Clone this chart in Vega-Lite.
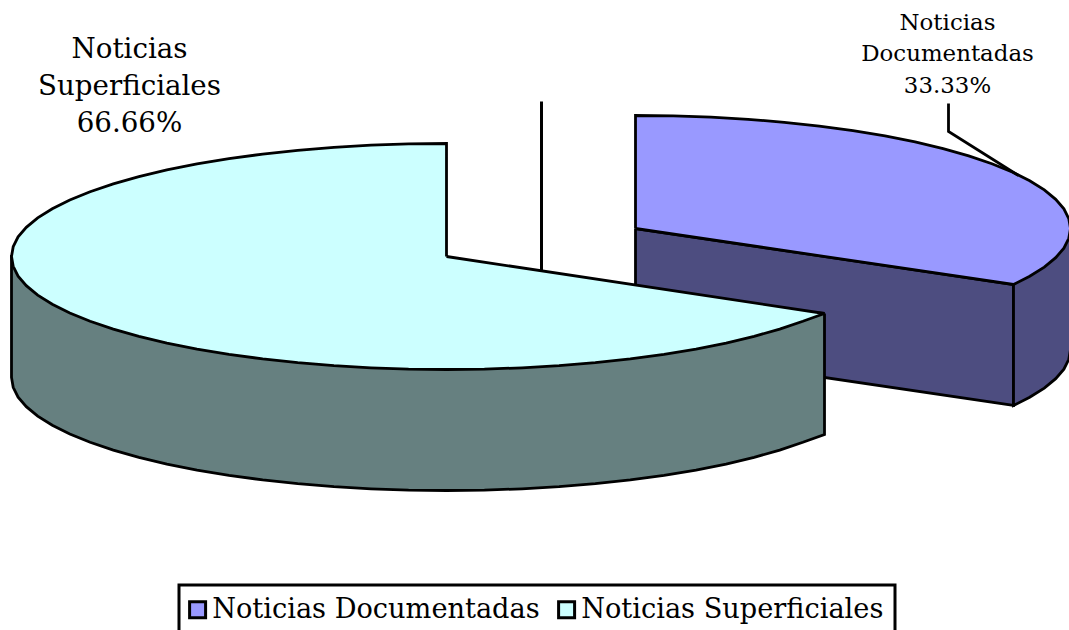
{
"$schema":"https://vega.github.io/schema/vega-lite/v6.json",
"width":1069,"height":630,"padding":0,"autosize":{"type":"none"},
"background":"white",
"config":{"view":{"stroke":null}},
"datasets":{
"caraAzul":[{"i":0,"x":635,"y":228},{"i":1,"x":1013,"y":284},{"i":2,"x":1013,"y":405},{"i":3,"x":635,"y":349},{"i":4,"x":635,"y":228}],
"bordeAzul":[{"i":0,"x":1013,"y":284},{"i":1,"x":1013,"y":405},{"i":2,"x":1029.2,"y":396.8},{"i":3,"x":1043.8,"y":387.6},{"i":4,"x":1055.2,"y":378.2},{"i":5,"x":1063.4,"y":368.6},{"i":6,"x":1068.3,"y":358.8},{"i":7,"x":1070,"y":349},{"i":8,"x":1070,"y":228},{"i":9,"x":1013,"y":284}],
"tapaAzul":[{"i":0,"x":635,"y":228,"serie":"Noticias Documentadas"},{"i":1,"x":635,"y":115,"serie":"Noticias Documentadas"},{"i":2,"x":672.9,"y":115.4,"serie":"Noticias Documentadas"},{"i":3,"x":710.5,"y":116.7,"serie":"Noticias Documentadas"},{"i":4,"x":747.6,"y":118.8,"serie":"Noticias Documentadas"},{"i":5,"x":783.8,"y":121.8,"serie":"Noticias Documentadas"},{"i":6,"x":818.8,"y":125.6,"serie":"Noticias Documentadas"},{"i":7,"x":852.5,"y":130.1,"serie":"Noticias Documentadas"},{"i":8,"x":884.5,"y":135.4,"serie":"Noticias Documentadas"},{"i":9,"x":914.6,"y":141.4,"serie":"Noticias Documentadas"},{"i":10,"x":942.6,"y":148.1,"serie":"Noticias Documentadas"},{"i":11,"x":968.2,"y":155.4,"serie":"Noticias Documentadas"},{"i":12,"x":991.4,"y":163.2,"serie":"Noticias Documentadas"},{"i":13,"x":1011.7,"y":171.5,"serie":"Noticias Documentadas"},{"i":14,"x":1029.2,"y":180.2,"serie":"Noticias Documentadas"},{"i":15,"x":1043.8,"y":189.4,"serie":"Noticias Documentadas"},{"i":16,"x":1055.2,"y":198.8,"serie":"Noticias Documentadas"},{"i":17,"x":1063.4,"y":208.4,"serie":"Noticias Documentadas"},{"i":18,"x":1068.3,"y":218.2,"serie":"Noticias Documentadas"},{"i":19,"x":1070,"y":228,"serie":"Noticias Documentadas"},{"i":20,"x":1068.3,"y":237.8,"serie":"Noticias Documentadas"},{"i":21,"x":1063.4,"y":247.6,"serie":"Noticias Documentadas"},{"i":22,"x":1055.2,"y":257.2,"serie":"Noticias Documentadas"},{"i":23,"x":1043.8,"y":266.6,"serie":"Noticias Documentadas"},{"i":24,"x":1029.2,"y":275.8,"serie":"Noticias Documentadas"},{"i":25,"x":1013,"y":284,"serie":"Noticias Documentadas"},{"i":26,"x":635,"y":228,"serie":"Noticias Documentadas"}],
"bordeCian":[{"i":0,"x":824,"y":313},{"i":1,"x":824,"y":434},{"i":2,"x":802.4,"y":441.8},{"i":3,"x":779.2,"y":449.6},{"i":4,"x":753.6,"y":456.9},{"i":5,"x":725.6,"y":463.6},{"i":6,"x":695.5,"y":469.6},{"i":7,"x":663.5,"y":474.9},{"i":8,"x":629.8,"y":479.4},{"i":9,"x":594.8,"y":483.2},{"i":10,"x":558.6,"y":486.2},{"i":11,"x":521.5,"y":488.3},{"i":12,"x":483.9,"y":489.6},{"i":13,"x":446,"y":490},{"i":14,"x":408.1,"y":489.6},{"i":15,"x":370.5,"y":488.3},{"i":16,"x":333.4,"y":486.2},{"i":17,"x":297.2,"y":483.2},{"i":18,"x":262.2,"y":479.4},{"i":19,"x":228.5,"y":474.9},{"i":20,"x":196.5,"y":469.6},{"i":21,"x":166.4,"y":463.6},{"i":22,"x":138.4,"y":456.9},{"i":23,"x":112.8,"y":449.6},{"i":24,"x":89.6,"y":441.8},{"i":25,"x":69.3,"y":433.5},{"i":26,"x":51.8,"y":424.8},{"i":27,"x":37.2,"y":415.6},{"i":28,"x":25.8,"y":406.2},{"i":29,"x":17.6,"y":396.6},{"i":30,"x":12.7,"y":386.8},{"i":31,"x":11,"y":377},{"i":32,"x":11,"y":256},{"i":33,"x":824,"y":313}],
"tapaCian":[{"i":0,"x":446,"y":256,"serie":"Noticias Superficiales"},{"i":1,"x":824,"y":313,"serie":"Noticias Superficiales"},{"i":2,"x":802.4,"y":320.8,"serie":"Noticias Superficiales"},{"i":3,"x":779.2,"y":328.6,"serie":"Noticias Superficiales"},{"i":4,"x":753.6,"y":335.9,"serie":"Noticias Superficiales"},{"i":5,"x":725.6,"y":342.6,"serie":"Noticias Superficiales"},{"i":6,"x":695.5,"y":348.6,"serie":"Noticias Superficiales"},{"i":7,"x":663.5,"y":353.9,"serie":"Noticias Superficiales"},{"i":8,"x":629.8,"y":358.4,"serie":"Noticias Superficiales"},{"i":9,"x":594.8,"y":362.2,"serie":"Noticias Superficiales"},{"i":10,"x":558.6,"y":365.2,"serie":"Noticias Superficiales"},{"i":11,"x":521.5,"y":367.3,"serie":"Noticias Superficiales"},{"i":12,"x":483.9,"y":368.6,"serie":"Noticias Superficiales"},{"i":13,"x":446,"y":369,"serie":"Noticias Superficiales"},{"i":14,"x":408.1,"y":368.6,"serie":"Noticias Superficiales"},{"i":15,"x":370.5,"y":367.3,"serie":"Noticias Superficiales"},{"i":16,"x":333.4,"y":365.2,"serie":"Noticias Superficiales"},{"i":17,"x":297.2,"y":362.2,"serie":"Noticias Superficiales"},{"i":18,"x":262.2,"y":358.4,"serie":"Noticias Superficiales"},{"i":19,"x":228.5,"y":353.9,"serie":"Noticias Superficiales"},{"i":20,"x":196.5,"y":348.6,"serie":"Noticias Superficiales"},{"i":21,"x":166.4,"y":342.6,"serie":"Noticias Superficiales"},{"i":22,"x":138.4,"y":335.9,"serie":"Noticias Superficiales"},{"i":23,"x":112.8,"y":328.6,"serie":"Noticias Superficiales"},{"i":24,"x":89.6,"y":320.8,"serie":"Noticias Superficiales"},{"i":25,"x":69.3,"y":312.5,"serie":"Noticias Superficiales"},{"i":26,"x":51.8,"y":303.8,"serie":"Noticias Superficiales"},{"i":27,"x":37.2,"y":294.6,"serie":"Noticias Superficiales"},{"i":28,"x":25.8,"y":285.2,"serie":"Noticias Superficiales"},{"i":29,"x":17.6,"y":275.6,"serie":"Noticias Superficiales"},{"i":30,"x":12.7,"y":265.8,"serie":"Noticias Superficiales"},{"i":31,"x":11,"y":256,"serie":"Noticias Superficiales"},{"i":32,"x":12.7,"y":246.2,"serie":"Noticias Superficiales"},{"i":33,"x":17.6,"y":236.4,"serie":"Noticias Superficiales"},{"i":34,"x":25.8,"y":226.8,"serie":"Noticias Superficiales"},{"i":35,"x":37.2,"y":217.4,"serie":"Noticias Superficiales"},{"i":36,"x":51.8,"y":208.2,"serie":"Noticias Superficiales"},{"i":37,"x":69.3,"y":199.5,"serie":"Noticias Superficiales"},{"i":38,"x":89.6,"y":191.2,"serie":"Noticias Superficiales"},{"i":39,"x":112.8,"y":183.4,"serie":"Noticias Superficiales"},{"i":40,"x":138.4,"y":176.1,"serie":"Noticias Superficiales"},{"i":41,"x":166.4,"y":169.4,"serie":"Noticias Superficiales"},{"i":42,"x":196.5,"y":163.4,"serie":"Noticias Superficiales"},{"i":43,"x":228.5,"y":158.1,"serie":"Noticias Superficiales"},{"i":44,"x":262.2,"y":153.6,"serie":"Noticias Superficiales"},{"i":45,"x":297.2,"y":149.8,"serie":"Noticias Superficiales"},{"i":46,"x":333.4,"y":146.8,"serie":"Noticias Superficiales"},{"i":47,"x":370.5,"y":144.7,"serie":"Noticias Superficiales"},{"i":48,"x":408.1,"y":143.4,"serie":"Noticias Superficiales"},{"i":49,"x":446,"y":143,"serie":"Noticias Superficiales"},{"i":50,"x":446,"y":256,"serie":"Noticias Superficiales"}],
"eje":[{"i":0,"x":541,"y":101},{"i":1,"x":541,"y":270}],
"guia":[{"i":0,"x":948,"y":103},{"i":1,"x":948,"y":131},{"i":2,"x":1018,"y":175}],
"rotuloIzq":[{"x":129,"y":49,"t":"Noticias"},{"x":129,"y":86,"t":"Superficiales"},{"x":129,"y":123,"t":"66.66%"}],
"rotuloDer":[{"x":947,"y":22,"t":"Noticias"},{"x":947,"y":53,"t":"Documentadas"},{"x":947,"y":85,"t":"33.33%"}]
},
"encoding":{
"x":{"field":"x","type":"quantitative","axis":null,"scale":{"domain":[-0.5,1068.5],"nice":false,"zero":false}},
"y":{"field":"y","type":"quantitative","axis":null,"scale":{"domain":[629.5,-0.5],"nice":false,"zero":false}}
},
"layer":[
{"data":{"name":"caraAzul"},"mark":{"type":"line","fill":"#4d4d80","stroke":"black","strokeWidth":2.8,"strokeJoin":"miter"},"encoding":{"order":{"field":"i"}}},
{"data":{"name":"bordeAzul"},"mark":{"type":"line","fill":"#4d4d80","stroke":"black","strokeWidth":2.8,"strokeJoin":"miter"},"encoding":{"order":{"field":"i"}}},
{"data":{"name":"tapaAzul"},"mark":{"type":"line","stroke":"black","strokeWidth":2.8,"strokeJoin":"miter"},"encoding":{"order":{"field":"i"},"fill":{"field":"serie","type":"nominal","scale":{"domain":["Noticias Documentadas","Noticias Superficiales"],"range":["#9999ff","#ccffff"]},"legend":{"orient":"none","legendX":179,"legendY":585,"direction":"horizontal","columns":2,"title":null,"symbolType":"square","symbolSize":256,"symbolStrokeColor":"black","symbolStrokeWidth":3,"symbolOpacity":1,"symbolOffset":-6,"labelOffset":1,"labelFont":"DejaVu Serif","labelFontSize":27.2,"labelColor":"black","labelLimit":500,"strokeColor":"black","fillColor":"white","padding":11,"columnPadding":12,"encode":{"legend":{"update":{"strokeWidth":{"value":3}}}}}}}},
{"data":{"name":"bordeCian"},"mark":{"type":"line","fill":"#668080","stroke":"black","strokeWidth":2.8,"strokeJoin":"miter"},"encoding":{"order":{"field":"i"}}},
{"data":{"name":"tapaCian"},"mark":{"type":"line","stroke":"black","strokeWidth":2.8,"strokeJoin":"miter"},"encoding":{"order":{"field":"i"},"fill":{"field":"serie","type":"nominal"}}},
{"data":{"name":"eje"},"mark":{"type":"line","stroke":"black","strokeWidth":3},"encoding":{"order":{"field":"i"}}},
{"data":{"name":"guia"},"mark":{"type":"line","stroke":"black","strokeWidth":2.8,"strokeJoin":"miter"},"encoding":{"order":{"field":"i"}}},
{"data":{"name":"rotuloIzq"},"mark":{"type":"text","font":"DejaVu Serif","fontSize":27.7,"color":"black","align":"center","baseline":"middle"},"encoding":{"text":{"field":"t"}}},
{"data":{"name":"rotuloDer"},"mark":{"type":"text","font":"DejaVu Serif","fontSize":22.9,"color":"black","align":"center","baseline":"middle"},"encoding":{"text":{"field":"t"}}}
]
}
